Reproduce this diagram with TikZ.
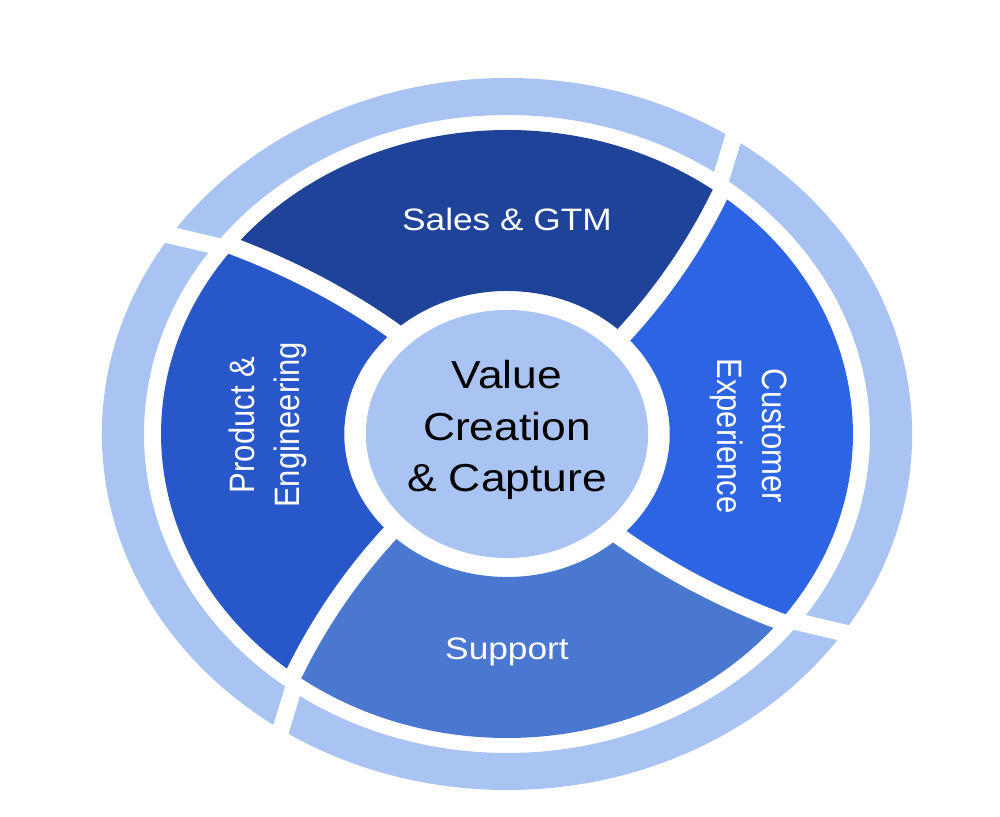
\documentclass[tikz,border=0pt]{standalone}
\usepackage{fontspec}
\setmainfont{Liberation Sans}
\usetikzlibrary{calc}
\definecolor{ringblue}{HTML}{A9C4F3}
\definecolor{salesblue}{HTML}{1E4399}
\definecolor{prodblue}{HTML}{2757C8}
\definecolor{cxblue}{HTML}{2D64E4}
\definecolor{suppblue}{HTML}{4A77CF}
\begin{document}
\begin{tikzpicture}[x=1pt,y=1pt,
  seglabel/.style={text=white, font=\fontsize{31}{39.5}\selectfont, align=center, transform shape, inner sep=0pt},
  corelabel/.style={text=black, font=\fontsize{39}{51.5}\selectfont, align=center, transform shape, inner sep=0pt},
  gapline/.style={white, line width=17pt},
]
\useasboundingbox[fill=white] (0,0) rectangle (1000,816);
\begin{scope}[shift={(507,382)}, xscale=1.138]
  % outer ring
  \fill[ringblue, even odd rule] (0,0) circle[radius=356] (0,0) circle[radius=319];
  \foreach \a in {55,145,235,325}
    \draw[gapline] ($(\a:337.5)+(\a+20:-28)$) -- ($(\a:337.5)+(\a+20:28)$);
  % segments
  \foreach \i/\c in {0/salesblue,1/prodblue,2/suppblue,3/cxblue} {
    \pgfmathsetmacro\aa{44+90*\i}
    \pgfmathsetmacro\ab{52+90*\i}
    \pgfmathsetmacro\ba{134+90*\i}
    \pgfmathsetmacro\bb{142+90*\i}
    \fill[\c] plot[domain=0:1,samples=20,variable=\t] ({\aa+8*\t}:{143+161*\t})
      arc[start angle=\ab, end angle=\bb, radius=304]
      -- plot[domain=1:0,samples=20,variable=\t] ({\ba+8*\t}:{143+161*\t})
      arc[start angle=\ba, end angle=\aa, radius=143] -- cycle;
  }
  \foreach \i in {0,...,3} {
    \pgfmathsetmacro\aa{44+90*\i}
    \draw[gapline] plot[domain=-0.06:1.05,samples=25,variable=\t] ({\aa+8*\t}:{143+161*\t});
  }
  % core
  \fill[ringblue] (0,0) circle[radius=124];
  \node[corelabel] (core) at (0,3.7) {Value\\Creation\\\& Capture};
  \node[seglabel, anchor=base] (sales) at (0,203) {Sales \& GTM};
  \node[seglabel, anchor=base] (support) at (0,-226) {Support};
  \node[seglabel, rotate=90] (product) at (-210,9) {Product \&\\Engineering};
  \node[seglabel, rotate=-90] (cx) at (212,-2) {Customer\\Experience};
\end{scope}
\end{tikzpicture}
\end{document}
